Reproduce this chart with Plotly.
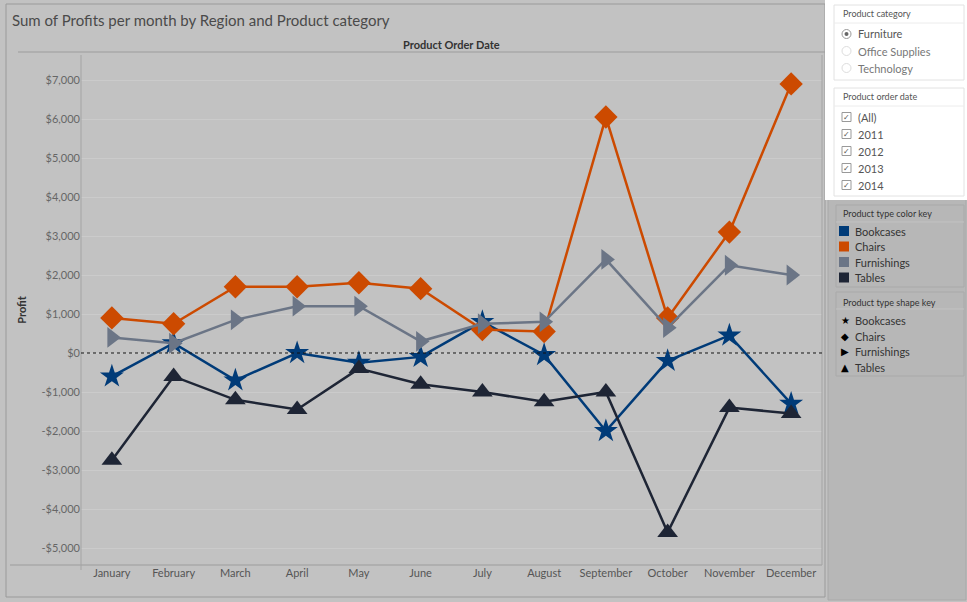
import plotly.graph_objects as go

# Monthly profit per product type (Furniture, all years)
months = ["January", "February", "March", "April", "May", "June", "July",
          "August", "September", "October", "November", "December"]
bookcases = [-600, 250, -700, 0, -250, -100, 800, -50, -2000, -200, 450, -1300]
chairs = [900, 750, 1700, 1700, 1800, 1650, 600, 550, 6050, 900, 3100, 6900]
furnishings = [400, 250, 850, 1200, 1200, 300, 750, 800, 2400, 650, 2250, 2000]
tables = [-2750, -600, -1200, -1450, -400, -800, -1000, -1250, -1000, -4600, -1400, -1550]

tick_vals = [-5000, -4000, -3000, -2000, -1000, 0, 1000, 2000, 3000, 4000, 5000, 6000, 7000]
tick_text = ["-$5,000", "-$4,000", "-$3,000", "-$2,000", "-$1,000", "$0", "$1,000",
             "$2,000", "$3,000", "$4,000", "$5,000", "$6,000", "$7,000"]

product_types = ["Bookcases", "Chairs", "Furnishings", "Tables"]
type_colors = ["#003b78", "#cc4a00", "#6b7586", "#1e2535"]
type_symbols = ["star", "diamond", "triangle-right", "triangle-up"]
shape_glyphs = ["★", "◆", "▶", "▲"]
categories = ["Furniture", "Office Supplies", "Technology"]
years = ["(All)", "2011", "2012", "2013", "2014"]

FONT = "Lato"
W, H = 967, 602
L, R, T, B = 81, 822, 55, 565


# pixel -> paper coordinates
def px(x):
    return (x - L) / (R - L)


def py(y):
    return (B - y) / (B - T)


fig = go.Figure()
for name, vals, col, sym in zip(product_types, [bookcases, chairs, furnishings, tables],
                                type_colors, type_symbols):
    fig.add_trace(go.Scatter(x=months, y=vals, mode="lines+markers", name=name,
                             line=dict(color=col, width=2.5),
                             marker=dict(symbol=sym, size=18,
                                         color=col, line=dict(width=0)),
                             showlegend=False))

shapes = []
annots = []

# chart frame
shapes.append(dict(type="rect", xref="paper", yref="paper", x0=px(6), x1=px(825),
                   y0=py(597), y1=py(4), line=dict(color="#9a9a9a", width=1), layer="below"))
# right panel
shapes.append(dict(type="rect", xref="paper", yref="paper", x0=px(828), x1=px(966),
                   y0=py(600), y1=py(0), fillcolor="#b7b7b7", line=dict(color="#a8a8a8", width=1),
                   layer="below"))
# white filter card
shapes.append(dict(type="rect", xref="paper", yref="paper", x0=px(825), x1=px(967),
                   y0=py(200), y1=py(0), fillcolor="#ffffff", line=dict(width=0), layer="below"))
for y0, y1 in [(5, 80), (88, 196)]:
    shapes.append(dict(type="rect", xref="paper", yref="paper", x0=px(834), x1=px(964),
                       y0=py(y1), y1=py(y0), line=dict(color="#e2e2e2", width=1), layer="below"))
    shapes.append(dict(type="line", xref="paper", yref="paper", x0=px(834), x1=px(964),
                       y0=py(y0 + 18), y1=py(y0 + 18), line=dict(color="#ececec", width=1)))
# legend cards
for y0, y1 in [(205, 287), (292, 376)]:
    shapes.append(dict(type="rect", xref="paper", yref="paper", x0=px(836), x1=px(964),
                       y0=py(y1), y1=py(y0), line=dict(color="#a9a9a9", width=1), layer="below"))
    shapes.append(dict(type="line", xref="paper", yref="paper", x0=px(836), x1=px(964),
                       y0=py(y0 + 17), y1=py(y0 + 17), line=dict(color="#c2c2c2", width=1)))

# header line, axis lines
shapes.append(dict(type="line", xref="paper", yref="paper", x0=px(18), x1=px(825),
                   y0=py(52), y1=py(52), line=dict(color="#9c9c9c", width=1)))
shapes.append(dict(type="line", xref="paper", yref="paper", x0=px(10), x1=px(822),
                   y0=0, y1=0, line=dict(color="#9c9c9c", width=1)))
shapes.append(dict(type="line", xref="paper", yref="paper", x0=0, x1=0,
                   y0=py(570), y1=1, line=dict(color="#a4a4a4", width=1)))
shapes.append(dict(type="line", xref="paper", yref="paper", x0=1, x1=1,
                   y0=0, y1=1, line=dict(color="#a4a4a4", width=1)))
# zero reference line
shapes.append(dict(type="line", xref="paper", yref="y", x0=0, x1=1, y0=0, y1=0,
                   line=dict(color="#111111", width=1, dash="dot")))

# titles
annots.append(dict(text="Sum of Profits per month by Region and Product category",
                   xref="paper", yref="paper", x=px(10), y=py(20), xanchor="left",
                   yanchor="middle", showarrow=False,
                   font=dict(family=FONT, size=15, color="#4a4a4a")))
annots.append(dict(text="<b>Product Order Date</b>", xref="paper", yref="paper",
                   x=px(452), y=py(44), xanchor="center", yanchor="middle", showarrow=False,
                   font=dict(family=FONT, size=11, color="#333333")))

# filter card: product category
annots.append(dict(text="Product category", xref="paper", yref="paper", x=px(841), y=py(13),
                   xanchor="left", yanchor="middle", showarrow=False,
                   font=dict(family=FONT, size=9, color="#555555")))
for i, c in enumerate(categories):
    yy = 34 + i * 17
    shapes.append(dict(type="circle", xref="paper", yref="paper", x0=px(842), x1=px(851),
                       y0=py(yy + 4.5), y1=py(yy - 4.5),
                       line=dict(color="#999999" if i == 0 else "#dddddd", width=1)))
    if i == 0:
        shapes.append(dict(type="circle", xref="paper", yref="paper", x0=px(844.5), x1=px(848.5),
                           y0=py(yy + 2), y1=py(yy - 2), fillcolor="#666666",
                           line=dict(width=0)))
    annots.append(dict(text=c, xref="paper", yref="paper", x=px(856), y=py(yy),
                       xanchor="left", yanchor="middle", showarrow=False,
                       font=dict(family=FONT, size=11, color="#555555" if i == 0 else "#777777")))

# filter card: order date
annots.append(dict(text="Product order date", xref="paper", yref="paper", x=px(841), y=py(96),
                   xanchor="left", yanchor="middle", showarrow=False,
                   font=dict(family=FONT, size=9, color="#555555")))
for i, yr in enumerate(years):
    yy = 117 + i * 17
    shapes.append(dict(type="rect", xref="paper", yref="paper", x0=px(842), x1=px(851),
                       y0=py(yy + 4.5), y1=py(yy - 4.5), line=dict(color="#999999", width=1)))
    annots.append(dict(text="✓", xref="paper", yref="paper", x=px(846.5), y=py(yy),
                       xanchor="center", yanchor="middle", showarrow=False,
                       font=dict(family="DejaVu Sans", size=8, color="#555555")))
    annots.append(dict(text=yr, xref="paper", yref="paper", x=px(856), y=py(yy),
                       xanchor="left", yanchor="middle", showarrow=False,
                       font=dict(family=FONT, size=11, color="#555555")))

# color key
annots.append(dict(text="Product type color key", xref="paper", yref="paper", x=px(841),
                   y=py(213), xanchor="left", yanchor="middle", showarrow=False,
                   font=dict(family=FONT, size=9, color="#333333")))
for i, (name, col) in enumerate(zip(product_types, type_colors)):
    yy = 231 + i * 15.5
    shapes.append(dict(type="rect", xref="paper", yref="paper", x0=px(839), x1=px(849),
                       y0=py(yy + 5), y1=py(yy - 5), fillcolor=col, line=dict(width=0)))
    annots.append(dict(text=name, xref="paper", yref="paper", x=px(853), y=py(yy),
                       xanchor="left", yanchor="middle", showarrow=False,
                       font=dict(family=FONT, size=11, color="#333333")))

# shape key
annots.append(dict(text="Product type shape key", xref="paper", yref="paper", x=px(841),
                   y=py(302), xanchor="left", yanchor="middle", showarrow=False,
                   font=dict(family=FONT, size=9, color="#333333")))
for i, (name, g) in enumerate(zip(product_types, shape_glyphs)):
    yy = 321 + i * 15.5
    annots.append(dict(text=g, xref="paper", yref="paper", x=px(845), y=py(yy),
                       xanchor="center", yanchor="middle", showarrow=False,
                       font=dict(family="DejaVu Sans", size=10, color="#000000")))
    annots.append(dict(text=name, xref="paper", yref="paper", x=px(853), y=py(yy),
                       xanchor="left", yanchor="middle", showarrow=False,
                       font=dict(family=FONT, size=11, color="#333333")))

fig.update_layout(
    width=W, height=H,
    margin=dict(l=L, r=W - R, t=T, b=H - B),
    paper_bgcolor="#c2c2c2", plot_bgcolor="#c2c2c2",
    font=dict(family=FONT, size=11, color="#555555"),
    shapes=shapes, annotations=annots,
    xaxis=dict(showgrid=False, showline=False, zeroline=False, ticks="",
               tickfont=dict(size=11, color="#555555"), range=[-0.5, 11.5]),
    yaxis=dict(range=[-5436, 7641], tickvals=tick_vals, ticktext=tick_text,
               showgrid=True, gridcolor="#cbcbcb", gridwidth=1, zeroline=False,
               showline=False, ticks="", tickfont=dict(size=11, color="#666666"),
               title=dict(text="<b>Profit</b>", font=dict(size=11, color="#333333"),
                          standoff=12)),
)

# drop the default page margin so the figure sits at the window's corner
fig.write_html("out.html", config={"displayModeBar": False},
               post_script="document.body.style.margin='0';")
